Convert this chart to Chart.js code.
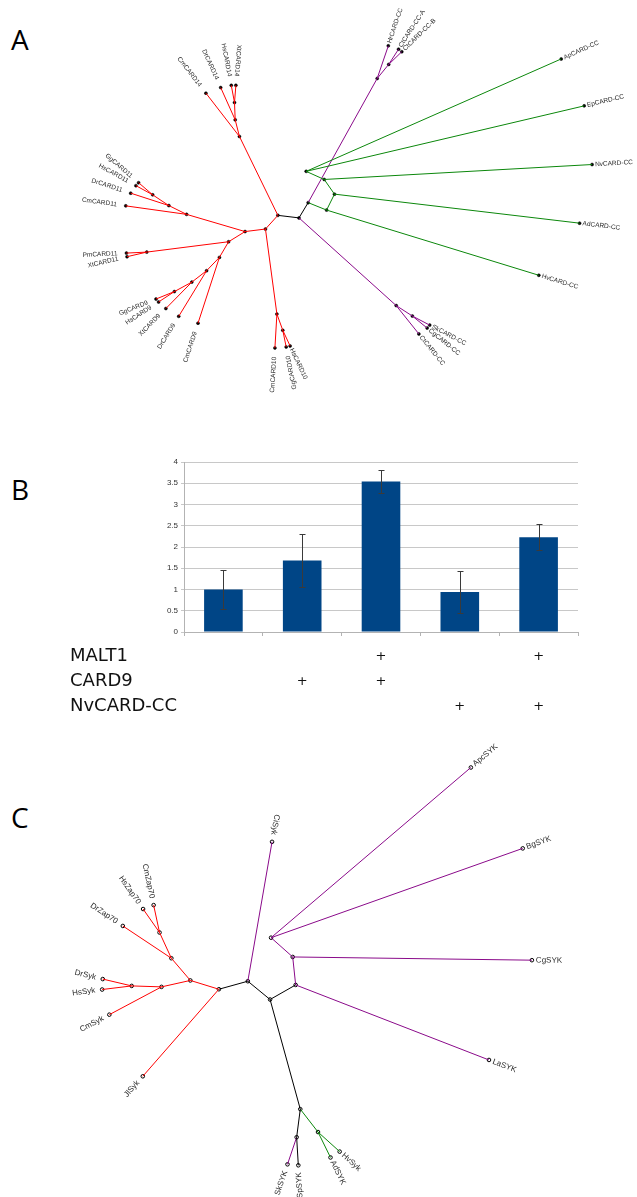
<!DOCTYPE html>
<html>
<head>
<meta charset="utf-8">
<script src="https://cdn.jsdelivr.net/npm/chart.js@4/dist/chart.umd.min.js"></script>
<style>
  body { margin: 0; background: #fff; width: 637px; height: 1197px; position: relative; overflow: hidden; font-family: "Open Sans", sans-serif; }
  canvas { position: absolute; left: 0; }
  .panel { position: absolute; left: 11px; font-size: 28px; line-height: 1; color: #000; }
</style>
</head>
<body>
<div class="panel" style="top:25px">A</div>
<div class="panel" style="top:475px">B</div>
<div class="panel" style="top:803px">C</div>

<canvas id="treeA" width="637" height="400" style="top:0"></canvas>
<canvas id="bars" width="637" height="280" style="top:440px"></canvas>
<canvas id="treeC" width="637" height="457" style="top:740px"></canvas>

<script>
// ---- panel A : CARD tree (node id, x, y in tree units) ----
const treeAPoints = [
  ['n1', 277.3, 215.7], ['n2', 298.7, 218.3], ['n3', 308, 202.7],
  ['c14a', 238.3, 135], ['c14b', 234, 118], ['c14c', 233.3, 100.3],
  ['CmCARD14', 204.3, 90.7], ['DrCARD14', 219.3, 85], ['HsCARD14', 230, 82.7], ['XtCARD14', 234.7, 82.7],
  ['n4', 264.7, 229.7], ['n5', 244, 232.3],
  ['c11a', 184.7, 214.7], ['c11b', 166.7, 205.7], ['c11c', 150.3, 194.7],
  ['GgCARD11', 136, 182.3], ['HsCARD11', 133.3, 185.3], ['DrCARD11', 128, 193], ['CmCARD11', 123, 206],
  ['n6', 227.3, 242.7], ['pm', 144.3, 253.3], ['PmCARD11', 123.7, 254.3], ['XtCARD11', 124.3, 258],
  ['c9a', 218, 258.7], ['c9b', 205, 272.3], ['c9c', 190, 284], ['c9d', 172.3, 293.7],
  ['CmCARD9', 196.3, 326], ['DrCARD9', 176.7, 319], ['XtCARD9', 163.7, 311], ['GgCARD9', 153.7, 301.3], ['HsCARD9', 156.3, 304.3],
  ['c10a', 276.3, 316.7], ['c10b', 282.3, 333.3],
  ['CmCARD10', 274.3, 351.3], ['GgCARD10', 285.7, 350.3], ['HsCARD10', 289.7, 349.3],
  ['g1', 326.7, 210.3], ['g2', 334.7, 194], ['g3', 324.3, 179], ['g4', 306, 170.7],
  ['ApCARD-CC', 564.7, 55.7], ['EpCARD-CC', 588, 103.7], ['NvCARD-CC', 596, 163.7], ['AdCARD-CC', 583.3, 223.7], ['HvCARD-CC', 542, 277],
  ['p1', 378, 75.7], ['p2', 389.7, 61.3], ['HrCARD-CC', 389.3, 42.3], ['CtCARD-CC-A', 399.7, 45.7], ['CtCARD-CC-B', 403, 48.3],
  ['q1', 397.3, 308], ['q2', 413.7, 318.7], ['SkCARD-CC', 431.3, 328], ['CgCARD-CC', 428.7, 331], ['CtCARD-CC', 420.3, 337]
];
const treeAEdges = [
  ['n1', 'c14a', 'red'], ['c14a', 'CmCARD14', 'red'], ['c14a', 'c14b', 'red'], ['c14b', 'DrCARD14', 'red'],
  ['c14b', 'c14c', 'red'], ['c14c', 'HsCARD14', 'red'], ['c14c', 'XtCARD14', 'red'],
  ['n1', 'n4', 'red'], ['n4', 'n5', 'red'], ['n4', 'c10a', 'red'],
  ['n5', 'c11a', 'red'], ['c11a', 'CmCARD11', 'red'], ['c11a', 'c11b', 'red'], ['c11b', 'DrCARD11', 'red'],
  ['c11b', 'c11c', 'red'], ['c11c', 'GgCARD11', 'red'], ['c11c', 'HsCARD11', 'red'],
  ['n5', 'n6', 'red'], ['n6', 'pm', 'red'], ['pm', 'PmCARD11', 'red'], ['pm', 'XtCARD11', 'red'],
  ['n6', 'c9a', 'red'], ['c9a', 'CmCARD9', 'red'], ['c9a', 'c9b', 'red'], ['c9b', 'DrCARD9', 'red'],
  ['c9b', 'c9c', 'red'], ['c9c', 'XtCARD9', 'red'], ['c9c', 'c9d', 'red'], ['c9d', 'GgCARD9', 'red'], ['c9d', 'HsCARD9', 'red'],
  ['c10a', 'CmCARD10', 'red'], ['c10a', 'c10b', 'red'], ['c10b', 'GgCARD10', 'red'], ['c10b', 'HsCARD10', 'red'],
  ['n1', 'n2', 'black'], ['n2', 'n3', 'black'],
  ['n3', 'g1', 'green'], ['g1', 'HvCARD-CC', 'green'], ['g1', 'g2', 'green'], ['g2', 'AdCARD-CC', 'green'],
  ['g2', 'g3', 'green'], ['g3', 'NvCARD-CC', 'green'], ['g3', 'g4', 'green'], ['g4', 'ApCARD-CC', 'green'], ['g4', 'EpCARD-CC', 'green'],
  ['n3', 'p1', 'purple'], ['p1', 'HrCARD-CC', 'purple'], ['p1', 'p2', 'purple'], ['p2', 'CtCARD-CC-A', 'purple'], ['p2', 'CtCARD-CC-B', 'purple'],
  ['n2', 'q1', 'purple'], ['q1', 'CtCARD-CC', 'purple'], ['q1', 'q2', 'purple'], ['q2', 'SkCARD-CC', 'purple'], ['q2', 'CgCARD-CC', 'purple']
];
const treeALeaves = [
  'CmCARD14', 'DrCARD14', 'HsCARD14', 'XtCARD14', 'GgCARD11', 'HsCARD11', 'DrCARD11', 'CmCARD11',
  'PmCARD11', 'XtCARD11', 'GgCARD9', 'HsCARD9', 'XtCARD9', 'DrCARD9', 'CmCARD9',
  'CmCARD10', 'GgCARD10', 'HsCARD10',
  'ApCARD-CC', 'EpCARD-CC', 'NvCARD-CC', 'AdCARD-CC', 'HvCARD-CC',
  'HrCARD-CC', 'CtCARD-CC-A', 'CtCARD-CC-B', 'SkCARD-CC', 'CgCARD-CC', 'CtCARD-CC'
];

// ---- panel B : luciferase bars ----
const conditions = ['control', 'CARD9', 'CARD9 + MALT1', 'NvCARD-CC', 'NvCARD-CC + MALT1'];
const foldValues = [1.0, 1.68, 3.54, 0.94, 2.23];
const foldErrors = [0.47, 0.62, 0.27, 0.50, 0.31];
const rowNames = ['MALT1', 'CARD9', 'NvCARD-CC'];
const malt1Marks = ['', '', '+', '', '+'];
const card9Marks = ['', '+', '+', '', ''];
const nvcardMarks = ['', '', '', '+', '+'];

// ---- panel C : SYK tree ----
const treeCPoints = [
  ['r0', 246.7, 981.5], ['r1', 217.3, 989.7], ['r2', 269.3, 1000.2],
  ['CiSyk', 271.3, 839],
  ['s1', 188.3, 980.7], ['JlSyk', 140, 1078.7],
  ['z1', 169, 958], ['DrZap70', 119.7, 925], ['z2', 157, 931.7], ['HsZap70', 140.3, 907.7], ['CmZap70', 151, 903.7],
  ['y1', 159, 987.3], ['CmSyk', 106, 1015.7], ['y2', 128.7, 986.3], ['DrSyk', 99.3, 979.3], ['HsSyk', 98.7, 990],
  ['m1', 295.3, 985.3], ['m2', 292.3, 956.7], ['m3', 270.3, 937],
  ['ApcSYK', 473.3, 763], ['BgSYK', 526, 845.7], ['CgSYK', 535.3, 960], ['LaSYK', 491.7, 1062],
  ['b1', 300, 1112.3], ['b2', 296.3, 1141], ['SkSYK', 287, 1168.7], ['SpSYK', 298, 1169.7],
  ['h1', 318, 1135.7], ['AdSYK', 330.7, 1161.7], ['HvSyk', 340, 1155.7]
];
const treeCEdges = [
  ['r0', 'r1', 'black'], ['r0', 'r2', 'black'], ['r2', 'm1', 'black'], ['r2', 'b1', 'black'], ['b1', 'b2', 'black'], ['b2', 'SpSYK', 'black'],
  ['r0', 'CiSyk', 'purple'], ['m1', 'LaSYK', 'purple'], ['m1', 'm2', 'purple'], ['m2', 'CgSYK', 'purple'],
  ['m2', 'm3', 'purple'], ['m3', 'ApcSYK', 'purple'], ['m3', 'BgSYK', 'purple'], ['b2', 'SkSYK', 'purple'],
  ['r1', 's1', 'red'], ['r1', 'JlSyk', 'red'], ['s1', 'z1', 'red'], ['s1', 'y1', 'red'],
  ['z1', 'DrZap70', 'red'], ['z1', 'z2', 'red'], ['z2', 'HsZap70', 'red'], ['z2', 'CmZap70', 'red'],
  ['y1', 'CmSyk', 'red'], ['y1', 'y2', 'red'], ['y2', 'DrSyk', 'red'], ['y2', 'HsSyk', 'red'],
  ['b1', 'h1', 'green'], ['h1', 'AdSYK', 'green'], ['h1', 'HvSyk', 'green']
];
const treeCLeaves = [
  'CiSyk', 'DrZap70', 'HsZap70', 'CmZap70', 'DrSyk', 'HsSyk', 'CmSyk', 'JlSyk',
  'ApcSYK', 'BgSYK', 'CgSYK', 'LaSYK', 'SkSYK', 'SpSYK', 'AdSYK', 'HvSyk'
];

const edgeColors = { red: '#ff0000', black: '#000000', green: '#0b870b', purple: '#8a0a8a' };

// leaf labels rotated along their branch
function leafLabelPlugin(points, edges, leaves, font, gapR, gapL) {
  const pos = {}, parent = {};
  points.forEach(p => { pos[p[0]] = p; });
  edges.forEach(e => { parent[e[1]] = e[0]; });
  return {
    id: 'leafLabels',
    afterDatasetsDraw(chart) {
      const { ctx, scales: { x, y } } = chart;
      ctx.save();
      ctx.font = font;
      ctx.fillStyle = '#2a2a2a';
      ctx.textBaseline = 'middle';
      leaves.forEach(name => {
        const leaf = pos[name], par = pos[parent[name]];
        const lx = x.getPixelForValue(leaf[1]), ly = y.getPixelForValue(leaf[2]);
        const px = x.getPixelForValue(par[1]), py = y.getPixelForValue(par[2]);
        const a = Math.atan2(ly - py, lx - px);
        const flip = Math.cos(a) < 0.2;
        const gap = flip ? gapL : gapR;
        ctx.save();
        ctx.translate(lx + Math.cos(a) * gap, ly + Math.sin(a) * gap);
        ctx.rotate(flip ? a + Math.PI : a);
        ctx.textAlign = flip ? 'right' : 'left';
        ctx.fillText(name, 0, 0);
        ctx.restore();
      });
      ctx.restore();
    }
  };
}

function drawTree(id, points, edges, leaves, yMin, yMax, nodeStyle, font, gapR, gapL) {
  const pos = {};
  points.forEach(p => { pos[p[0]] = p; });
  const datasets = edges.map(e => ({
    data: [{ x: pos[e[0]][1], y: pos[e[0]][2] }, { x: pos[e[1]][1], y: pos[e[1]][2] }],
    showLine: true,
    borderColor: edgeColors[e[2]],
    borderWidth: 1,
    pointRadius: 0
  }));
  datasets.push({
    data: points.map(p => ({ x: p[1], y: p[2] })),
    showLine: false,
    pointRadius: nodeStyle.r,
    pointBackgroundColor: nodeStyle.fill,
    pointBorderColor: '#000',
    pointBorderWidth: nodeStyle.bw
  });
  return new Chart(document.getElementById(id), {
    type: 'scatter',
    data: { datasets },
    options: {
      responsive: false,
      animation: false,
      layout: { padding: 0 },
      plugins: { legend: { display: false }, tooltip: { enabled: false } },
      scales: {
        x: { type: 'linear', display: false, min: 0, max: 637 },
        y: { type: 'linear', display: false, min: yMin, max: yMax, reverse: true }
      }
    },
    plugins: [leafLabelPlugin(points, edges, leaves, font, gapR, gapL)]
  });
}

drawTree('treeA', treeAPoints, treeAEdges, treeALeaves, 0, 400,
  { r: 1.5, fill: '#000', bw: 0.5 }, '6.5px "Liberation Sans"', 3, 9);
drawTree('treeC', treeCPoints, treeCEdges, treeCLeaves, 740, 1197,
  { r: 1.8, fill: '#fff', bw: 1 }, '8px "Liberation Sans"', 4, 7);

// ---- bar chart ----
const errorBars = {
  id: 'errorBars',
  afterDatasetsDraw(chart) {
    const { ctx, scales: { y } } = chart;
    const meta = chart.getDatasetMeta(0);
    ctx.save();
    ctx.strokeStyle = '#3a3a3a';
    ctx.lineWidth = 1;
    meta.data.forEach((bar, i) => {
      const top = Math.round(y.getPixelForValue(foldValues[i] + foldErrors[i])) + 0.5;
      const bot = Math.round(y.getPixelForValue(foldValues[i] - foldErrors[i])) + 0.5;
      const cx = Math.round(bar.x) + 0.5;
      ctx.beginPath();
      ctx.moveTo(cx, top); ctx.lineTo(cx, bot);
      ctx.moveTo(cx - 3, top); ctx.lineTo(cx + 3, top);
      ctx.moveTo(cx - 3, bot); ctx.lineTo(cx + 3, bot);
      ctx.stroke();
    });
    ctx.restore();
  }
};

const rowMarks = {
  id: 'rowMarks',
  afterDraw(chart) {
    const { ctx, chartArea } = chart;
    const meta = chart.getDatasetMeta(0);
    const rows = [malt1Marks, card9Marks, nvcardMarks];
    ctx.save();
    ctx.fillStyle = '#111';
    ctx.textBaseline = 'alphabetic';
    rows.forEach((marks, r) => {
      const base = chartArea.bottom + 29 + r * 25;
      ctx.font = '18px "DejaVu Sans"';
      ctx.textAlign = 'left';
      ctx.fillText(rowNames[r], 70, base);
      ctx.font = '13px "DejaVu Sans"';
      ctx.textAlign = 'center';
      marks.forEach((m, i) => { if (m) ctx.fillText(m, meta.data[i].x, base - 1); });
    });
    ctx.restore();
  }
};

new Chart(document.getElementById('bars'), {
  type: 'bar',
  data: {
    labels: conditions,
    datasets: [{
      data: foldValues,
      backgroundColor: '#004586',
      borderWidth: 0,
      barPercentage: 0.49,
      categoryPercentage: 1
    }]
  },
  options: {
    responsive: false,
    animation: false,
    layout: { padding: { left: 150, right: 59, top: 22, bottom: 84 } },
    plugins: { legend: { display: false }, tooltip: { enabled: false } },
    scales: {
      x: {
        ticks: { display: false },
        grid: { display: true, drawOnChartArea: false, tickLength: 4, color: '#b3b3b3' },
        border: { color: '#b3b3b3' },
        afterFit: s => { s.height = 4; }
      },
      y: {
        min: 0,
        max: 4,
        ticks: {
          stepSize: 0.5, padding: 3, color: '#333',
          font: { family: 'Liberation Sans', size: 8 },
          callback: v => String(v)
        },
        grid: { color: '#c8c8c8', tickLength: 3 },
        border: { color: '#b3b3b3' },
        afterFit: s => { s.width = 34; }
      }
    }
  },
  plugins: [errorBars, rowMarks]
});
</script>
</body>
</html>
